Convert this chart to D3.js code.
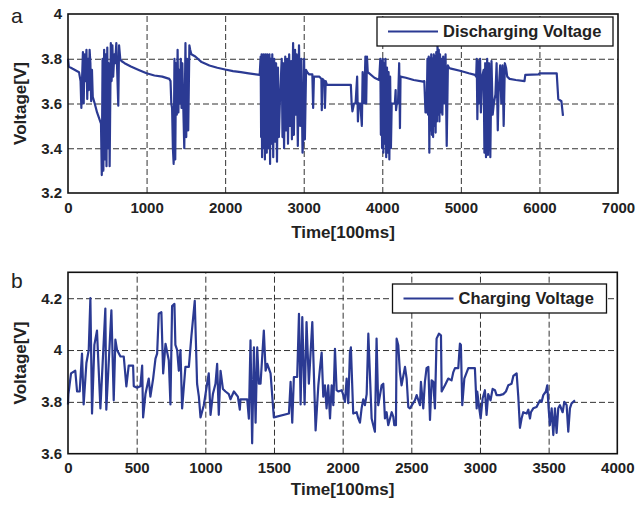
<!DOCTYPE html>
<html><head><meta charset="utf-8">
<script src="https://cdn.jsdelivr.net/npm/d3@7"></script>
<style>
html,body{margin:0;padding:0;background:#fff;}
svg text{font-family:"Liberation Sans",Arial,Helvetica,sans-serif;}
</style></head>
<body>
<svg id="chart" width="637" height="507"></svg>
<script>
// ---------- DATA ----------
const dischargeSeries = [[0,3.80],[10,3.765],[60,3.755],[140,3.74],[160,3.70],[170,3.58],[180,3.72],[190,3.83],[200,3.60],[210,3.82],[220,3.70],[235,3.84],[245,3.62],[255,3.80],[265,3.66],[275,3.84],[285,3.78],[295,3.61],[305,3.75],[315,3.63],[340,3.60],[370,3.56],[400,3.53],[420,3.51],[430,3.28],[440,3.80],[450,3.30],[460,3.84],[470,3.35],[480,3.82],[490,3.32],[500,3.85],[510,3.40],[520,3.78],[530,3.32],[545,3.87],[555,3.70],[565,3.86],[575,3.72],[590,3.82],[600,3.78],[615,3.87],[625,3.76],[640,3.59],[650,3.86],[665,3.80],[680,3.79],[720,3.78],[800,3.765],[900,3.75],[1000,3.735],[1100,3.725],[1200,3.72],[1290,3.71],[1305,3.70],[1315,3.60],[1325,3.58],[1335,3.40],[1345,3.33],[1355,3.80],[1365,3.35],[1375,3.78],[1385,3.55],[1395,3.84],[1405,3.56],[1415,3.75],[1425,3.60],[1435,3.80],[1445,3.58],[1455,3.78],[1465,3.62],[1480,3.40],[1495,3.87],[1505,3.45],[1515,3.80],[1530,3.48],[1545,3.86],[1555,3.84],[1570,3.82],[1620,3.81],[1700,3.785],[1800,3.77],[1900,3.76],[2000,3.752],[2100,3.745],[2200,3.74],[2300,3.735],[2440,3.728],
[2452,3.81],[2458,3.45],[2464,3.82],[2470,3.36],[2476,3.80],[2482,3.42],[2488,3.82],[2494,3.40],[2500,3.81],[2506,3.35],[2512,3.82],[2518,3.44],[2524,3.80],[2530,3.38],[2536,3.82],[2542,3.46],[2548,3.81],[2556,3.40],[2564,3.82],[2572,3.33],[2580,3.80],[2590,3.42],[2600,3.82],[2612,3.36],[2624,3.80],[2636,3.43],[2648,3.78],[2660,3.34],[2672,3.76],[2684,3.45],[2696,3.60],
[2720,3.80],[2730,3.45],[2740,3.78],[2750,3.40],[2765,3.81],[2775,3.48],[2790,3.80],[2800,3.42],[2815,3.82],[2825,3.50],[2840,3.79],[2850,3.44],[2865,3.87],[2875,3.46],[2890,3.84],[2900,3.55],[2910,3.82],[2925,3.41],[2940,3.86],[2955,3.50],[2970,3.80],[2985,3.38],[2995,3.45],[3005,3.80],[3015,3.44],[3030,3.75],[3045,3.74],[3070,3.73],[3110,3.73],[3120,3.58],[3130,3.72],[3200,3.72],[3225,3.71],[3230,3.57],[3240,3.71],[3265,3.70],[3270,3.58],[3280,3.70],[3295,3.683],[3600,3.683],
[3610,3.60],[3620,3.565],[3640,3.60],[3660,3.60],[3680,3.72],[3690,3.52],[3700,3.60],[3720,3.60],[3740,3.50],[3750,3.74],[3770,3.60],[3785,3.81],[3795,3.60],[3805,3.81],[3815,3.74],[3900,3.715],[3960,3.705],
[3975,3.80],[3982,3.46],[3990,3.79],[3998,3.40],[4006,3.80],[4014,3.38],[4022,3.78],[4030,3.42],[4040,3.80],[4050,3.36],[4060,3.76],[4070,3.38],[4080,3.74],[4090,3.35],[4100,3.72],[4110,3.40],[4120,3.60],[4160,3.60],[4170,3.66],[4175,3.57],[4185,3.60],[4200,3.60],[4215,3.78],[4225,3.49],[4232,3.72],[4300,3.715],[4400,3.705],[4520,3.698],[4535,3.70],[4550,3.56],
[4565,3.56],[4575,3.80],[4583,3.55],[4591,3.81],[4599,3.38],[4607,3.80],[4615,3.48],[4623,3.82],[4631,3.46],[4639,3.80],[4647,3.45],[4655,3.82],[4663,3.50],[4671,3.81],[4679,3.47],[4687,3.83],[4695,3.52],[4703,3.86],[4711,3.55],[4719,3.84],[4727,3.52],[4735,3.82],[4745,3.56],[4755,3.80],[4765,3.55],[4775,3.81],[4790,3.60],[4805,3.82],[4820,3.41],[4835,3.77],[4850,3.76],[4862,3.757],[5000,3.745],[5100,3.735],[5180,3.728],
[5195,3.72],[5202,3.80],[5210,3.53],[5220,3.79],[5230,3.60],[5245,3.80],[5255,3.56],[5270,3.72],[5290,3.75],[5300,3.38],[5310,3.78],[5320,3.36],[5335,3.80],[5345,3.37],[5360,3.78],[5375,3.36],[5390,3.79],[5405,3.55],[5420,3.60],[5440,3.64],[5455,3.78],[5470,3.48],[5480,3.65],[5500,3.77],[5515,3.60],[5530,3.77],[5545,3.50],[5560,3.78],[5575,3.76],[5590,3.72],[5620,3.71],[5700,3.705],[5810,3.70],[5820,3.728],[5990,3.73],[6000,3.735],[6220,3.735],[6240,3.62],[6280,3.61],[6300,3.545]];

const chargeSeries = [[0,3.79],[3,3.83],[22,3.91],[53,3.92],[66,3.84],[85,3.84],[102,3.986],[114,3.79],[134,3.95],[151,4.0],[163,4.2],[175,3.755],[192,4.02],[211,4.075],[236,3.775],[272,4.16],[279,3.77],[316,4.153],[333,3.806],[345,4.04],[357,4.0],[382,3.975],[406,3.975],[425,3.86],[442,3.94],[474,3.94],[479,3.86],[503,3.855],[527,3.86],[540,3.94],[547,3.74],[564,3.83],[588,3.89],[600,3.82],[620,3.89],[637,3.967],[649,3.986],[661,4.14],[680,4.146],[693,3.91],[710,4.024],[734,3.96],[746,3.79],[758,4.17],[775,4.178],[782,4.02],[795,4.0],[807,3.92],[819,4.0],[831,3.775],[855,3.935],[880,3.935],[899,4.056],[923,4.19],[940,3.87],[953,3.82],[965,3.74],[989,3.787],[1013,3.87],[1025,3.91],[1038,3.75],[1055,3.83],[1074,3.87],[1086,3.947],[1098,3.75],[1111,3.92],[1128,3.85],[1147,3.84],[1171,3.83],[1183,3.81],[1208,3.84],[1237,3.82],[1251,3.77],[1256,3.81],[1305,3.81],[1317,3.735],[1329,4.037],[1341,3.64],[1354,4.01],[1366,3.72],[1378,4.01],[1390,3.87],[1402,3.87],[1426,4.075],[1439,3.92],[1451,3.947],[1475,3.91],[1499,3.74],[1609,3.755],[1621,3.877],[1633,3.72],[1645,3.896],[1669,3.896],[1682,4.14],[1694,3.79],[1706,4.127],[1723,3.79],[1737,4.108],[1754,3.87],[1779,4.108],[1803,3.69],[1823,3.864],[1835,3.93],[1847,3.99],[1859,3.82],[1871,3.864],[1883,3.775],[1895,3.864],[1908,3.736],[1920,3.864],[1932,3.787],[1944,4.005],
[1956,3.845],[1968,3.84],[1993,3.845],[2005,3.826],[2017,3.80],[2029,3.89],[2041,3.795],[2053,3.99],[2060,4.01],[2077,3.755],[2102,3.76],[2114,3.736],[2126,3.72],[2138,3.775],[2150,3.81],[2162,3.787],[2175,3.83],[2187,4.063],[2211,3.736],[2223,3.71],[2235,3.685],[2247,4.044],[2259,3.787],[2272,3.826],[2284,3.864],[2296,3.87],[2308,3.736],[2320,3.76],[2332,3.71],[2357,3.76],[2369,3.742],[2376,3.71],[2388,3.71],[2393,4.044],[2405,4.018],[2417,3.915],[2429,3.864],[2454,3.935],[2466,3.89],[2478,3.78],[2490,3.775],[2526,3.806],[2539,3.826],[2563,3.787],[2570,3.877],[2587,3.775],[2599,3.877],[2611,3.93],[2624,3.935],[2636,3.73],[2648,3.883],[2660,3.877],[2672,3.775],[2684,4.044],[2701,4.063],[2716,4.057],[2721,3.84],[2745,3.864],[2769,3.89],[2793,3.883],[2806,3.915],[2818,3.93],[2842,3.93],[2854,4.025],[2861,4.02],[2871,3.787],[2886,3.89],[2915,3.93],[2963,3.93],[2976,3.775],[2980,3.84],[2995,3.775],[3005,3.736],[3019,3.813],[3036,3.845],[3048,3.75],[3060,3.83],[3077,3.806],[3092,3.85],[3109,3.845],[3121,3.826],[3145,3.826],[3170,3.83],[3189,3.84],[3206,3.864],[3230,3.87],[3243,3.90],[3267,3.91],[3279,3.82],[3291,3.70],[3303,3.736],[3315,3.76],[3340,3.755],[3352,3.77],[3364,3.736],[3371,3.76],[3388,3.775],[3412,3.78],[3437,3.806],[3449,3.80],[3461,3.826],[3480,3.84],[3490,3.864],[3500,3.775],[3509,3.71],[3522,3.775],[3534,3.672],[3546,3.775],[3558,3.68],[3570,3.775],[3582,3.787],[3602,3.76],[3614,3.80],[3631,3.787],[3643,3.685],[3655,3.775],[3667,3.794],[3692,3.806]];

const dischargeTimeTicks = [0,1000,2000,3000,4000,5000,6000,7000];
const dischargeVoltTicks = [3.2,3.4,3.6,3.8,4.0];
const dischargeVoltLabels = ["3.2","3.4","3.6","3.8","4"];
const chargeTimeTicks = [0,500,1000,1500,2000,2500,3000,3500,4000];
const chargeVoltTicks = [3.6,3.8,4.0,4.2];
const chargeVoltLabels = ["3.6","3.8","4","4.2"];

// ---------- DRAW ----------
const svg = d3.select("#chart");
const LINE = "#2b3a93";

function panel(cfg){
  const g = svg.append("g").attr("transform",`translate(${cfg.left},${cfg.top})`);
  const w = cfg.width, h = cfg.height;
  const x = d3.scaleLinear().domain(cfg.xDomain).range([0,w]);
  const y = d3.scaleLinear().domain(cfg.yDomain).range([h,0]);

  // grid
  const gx = g.append("g").attr("transform",`translate(0,${h})`)
    .call(d3.axisBottom(x).tickValues(cfg.xTicks.filter(v=>v>cfg.xDomain[0]&&v<cfg.xDomain[1])).tickSize(-h).tickFormat(""));
  const gy = g.append("g")
    .call(d3.axisLeft(y).tickValues(cfg.yTicks.filter(v=>v>cfg.yDomain[0]&&v<cfg.yDomain[1])).tickSize(-w).tickFormat(""));
  [gx,gy].forEach(a=>{
    a.select(".domain").remove();
    a.selectAll("line").attr("stroke","#333").attr("stroke-width",1).attr("stroke-dasharray","6,3");
  });

  // line
  g.append("path").datum(cfg.data)
    .attr("fill","none").attr("stroke",LINE).attr("stroke-width",2.2).attr("stroke-linejoin","round")
    .attr("d",d3.line().x(d=>x(d[0])).y(d=>y(d[1])));

  // frame
  g.append("rect").attr("width",w).attr("height",h).attr("fill","none").attr("stroke","#111").attr("stroke-width",1.6);

  // tick labels via axes
  const ax = g.append("g").attr("transform",`translate(0,${h})`)
    .call(d3.axisBottom(x).tickValues(cfg.xTicks).tickSize(0).tickPadding(9).tickFormat(d3.format("d")));
  const ay = g.append("g")
    .call(d3.axisLeft(y).tickValues(cfg.yTicks).tickSize(0).tickPadding(6).tickFormat((d,i)=>cfg.yLabels[i]));
  [ax,ay].forEach(a=>{
    a.select(".domain").remove();
    a.selectAll("text").attr("font-size",15).attr("font-weight","bold").attr("fill","#222")
      .attr("font-family","'Liberation Sans',Arial,sans-serif");
  });
  ax.selectAll("text").attr("dy","0.71em");

  // axis titles
  g.append("text").attr("x",w/2).attr("y",h + cfg.xTitleOffset)
    .attr("text-anchor","middle").attr("font-size",17).attr("font-weight","bold").attr("fill","#222")
    .text("Time[100ms]");
  g.append("text").attr("transform",`translate(${cfg.yTitleX},${h/2}) rotate(-90)`)
    .attr("text-anchor","middle").attr("font-size",17).attr("font-weight","bold").attr("fill","#222")
    .text("Voltage[V]");

  // panel letter
  svg.append("text").attr("x",11).attr("y",cfg.letterY).attr("font-size",21).attr("fill","#222").text(cfg.letter);

  // legend
  const lg = svg.append("g").attr("transform",`translate(${cfg.legend.x},${cfg.legend.y})`);
  lg.append("rect").attr("width",cfg.legend.w).attr("height",29).attr("fill","#fff").attr("stroke","#111").attr("stroke-width",1.3);
  lg.append("line").attr("x1",11).attr("x2",61).attr("y1",14.5).attr("y2",14.5).attr("stroke",LINE).attr("stroke-width",2.2);
  lg.append("text").attr("x",66).attr("y",20).attr("font-size",16.5).attr("font-weight","bold").attr("fill","#222").text(cfg.legend.label);
}

panel({left:68, top:14, width:550, height:179, xDomain:[0,7000], yDomain:[3.2,4.0],
  xTicks:dischargeTimeTicks, yTicks:dischargeVoltTicks, yLabels:dischargeVoltLabels,
  data:dischargeSeries, xTitleOffset:45, yTitleX:-42, letter:"a", letterY:23,
  legend:{x:377, y:17, w:236, label:"Discharging Voltage"}});

panel({left:68, top:272.3, width:549.3, height:181.4, xDomain:[0,4000], yDomain:[3.6,4.3],
  xTicks:chargeTimeTicks, yTicks:chargeVoltTicks, yLabels:chargeVoltLabels,
  data:chargeSeries, xTitleOffset:41, yTitleX:-42, letter:"b", letterY:288,
  legend:{x:392.5, y:284, w:214, label:"Charging Voltage"}});
</script>
</body></html>
